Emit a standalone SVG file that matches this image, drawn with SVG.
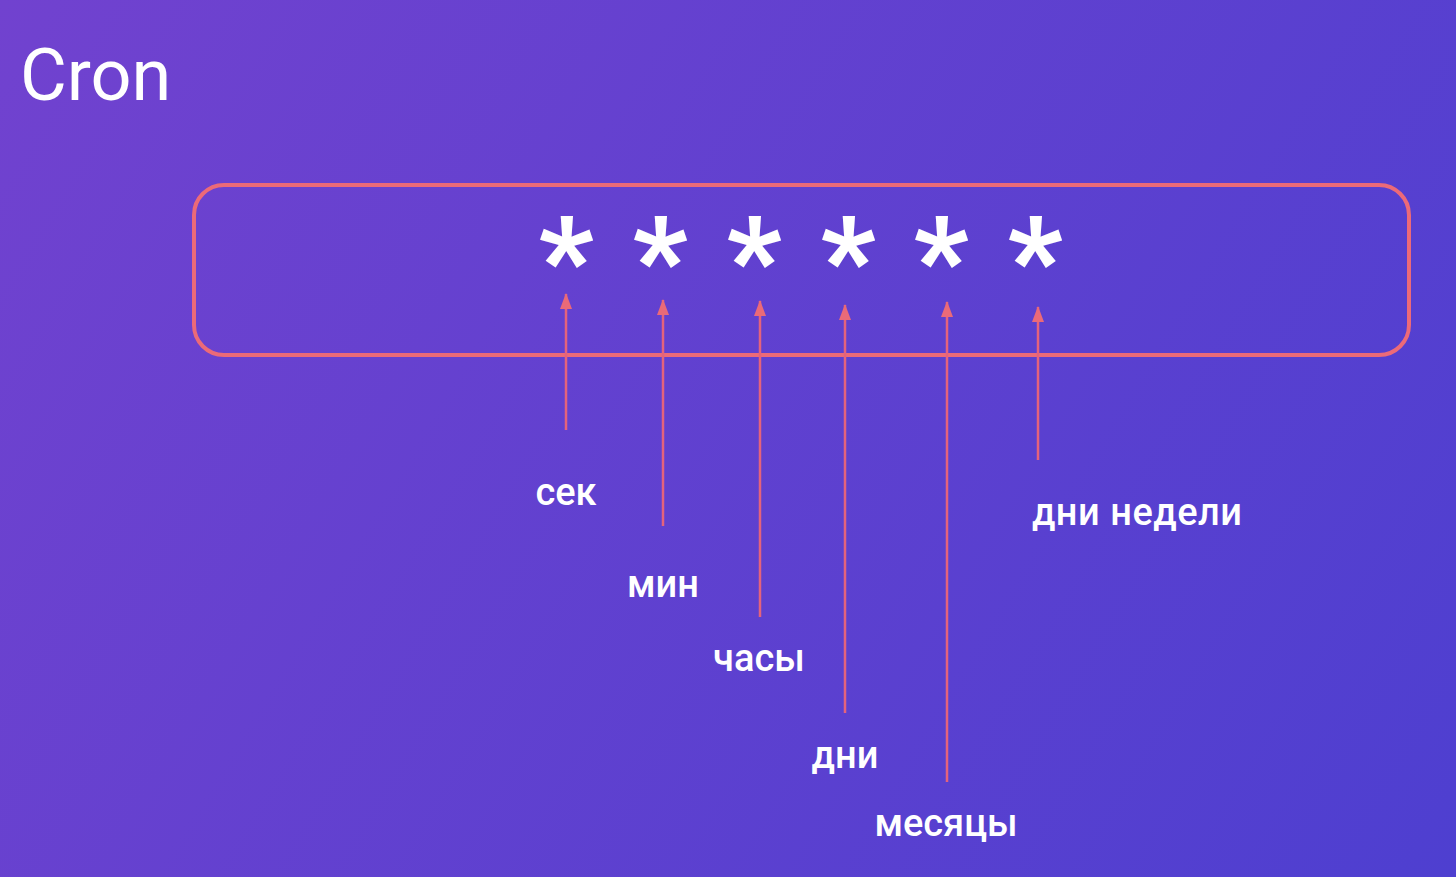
<svg xmlns="http://www.w3.org/2000/svg" width="1456" height="877" viewBox="0 0 1456 877">
<defs>
<linearGradient id="bg" x1="0" y1="0" x2="1456" y2="877" gradientUnits="userSpaceOnUse">
<stop offset="0" stop-color="#7142cf"/>
<stop offset="1" stop-color="#4e3fd0"/>
</linearGradient>
<marker id="ah" viewBox="0 0 16 12" refX="15" refY="6" markerWidth="16" markerHeight="12" markerUnits="userSpaceOnUse" orient="auto">
<path d="M16 6 L0 0 L0 12 Z" fill="#ea6a78"/>
</marker>
<style>
.lbl{font-family:Roboto,"Liberation Sans",sans-serif;font-weight:500;font-size:38px;fill:#ffffff;}
.star{font-family:Roboto,"Liberation Sans",sans-serif;font-weight:900;font-size:118px;fill:#ffffff;text-anchor:middle;}
.conn line{stroke:#e4637c;stroke-width:2.5;}
</style>
</defs>
<rect x="0" y="0" width="1456" height="877" fill="url(#bg)"/>
<text x="20" y="100" font-family="Roboto,'Liberation Sans',sans-serif" font-size="72" fill="#ffffff">Cron</text>
<g id="box">
<rect x="194" y="185" width="1215" height="170" rx="30" fill="none" stroke="#ec6a78" stroke-width="4"/>
<text class="star" x="566" y="301">*</text>
<text class="star" x="660" y="301">*</text>
<text class="star" x="754" y="301">*</text>
<text class="star" x="848" y="301">*</text>
<text class="star" x="941" y="301">*</text>
<text class="star" x="1035" y="301">*</text>
</g>
<g class="conn" id="connectors">
<line x1="566" y1="430" x2="566" y2="294" marker-end="url(#ah)"/>
<line x1="663" y1="526" x2="663" y2="300" marker-end="url(#ah)"/>
<line x1="760" y1="617" x2="760" y2="301" marker-end="url(#ah)"/>
<line x1="845" y1="713" x2="845" y2="305" marker-end="url(#ah)"/>
<line x1="947" y1="782" x2="947" y2="302" marker-end="url(#ah)"/>
<line x1="1038" y1="460" x2="1038" y2="307" marker-end="url(#ah)"/>
</g>
<g id="n-sek"><text class="lbl" x="566" y="505" text-anchor="middle">сек</text></g>
<g id="n-min"><text class="lbl" x="663" y="597" text-anchor="middle">мин</text></g>
<g id="n-chasy"><text class="lbl" x="759" y="671" text-anchor="middle">часы</text></g>
<g id="n-dni"><text class="lbl" x="845" y="768" text-anchor="middle">дни</text></g>
<g id="n-mes"><text class="lbl" x="946" y="836" text-anchor="middle">месяцы</text></g>
<g id="n-dned"><text class="lbl" x="1032" y="525" letter-spacing="0.5">дни недели</text></g>
</svg>
